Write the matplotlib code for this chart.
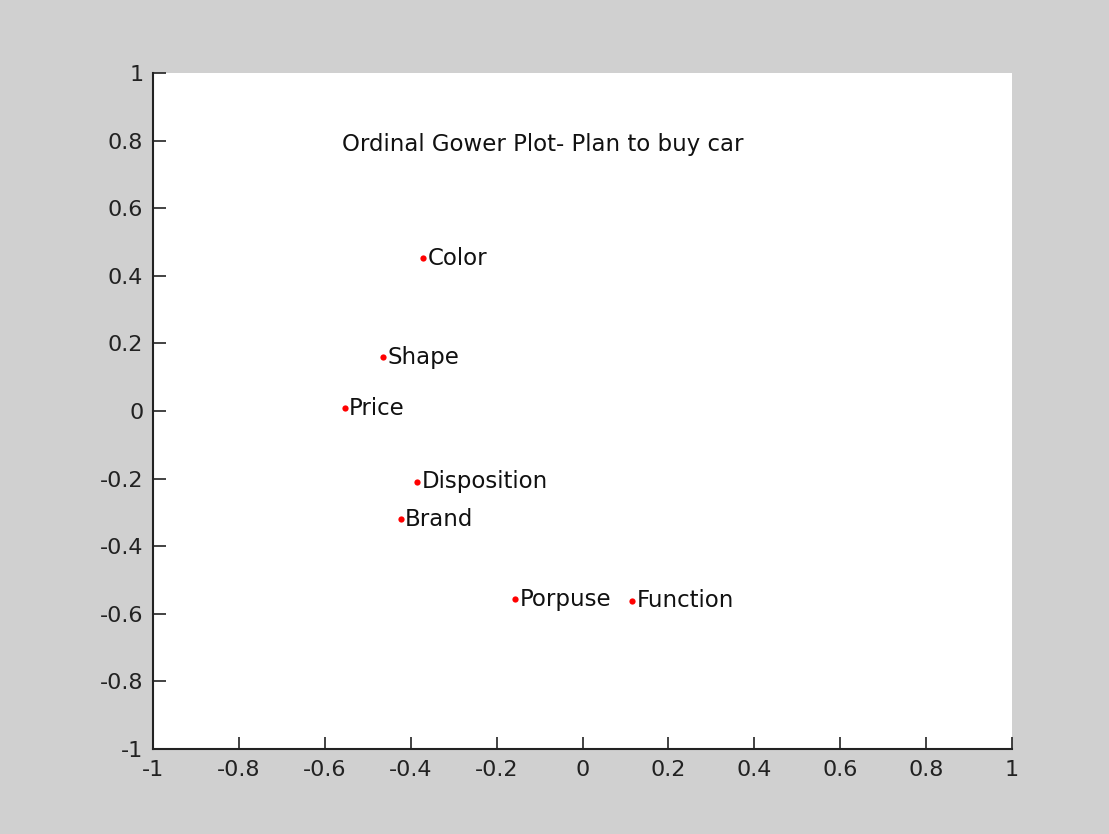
import matplotlib
matplotlib.use("Agg")
import matplotlib.pyplot as plt

# Gower coordinates of the variables
labels = ["Color", "Shape", "Price", "Disposition", "Brand", "Porpuse", "Function"]
xs = [-0.371, -0.464, -0.553, -0.385, -0.423, -0.157, 0.116]
ys = [0.452, 0.159, 0.008, -0.209, -0.320, -0.557, -0.562]
ticks = [-1, -0.8, -0.6, -0.4, -0.2, 0, 0.2, 0.4, 0.6, 0.8, 1]
tick_labels = ["-1", "-0.8", "-0.6", "-0.4", "-0.2", "0", "0.2", "0.4", "0.6", "0.8", "1"]

plt.rcParams["font.family"] = ["DejaVu Sans"]

fig = plt.figure(figsize=(11.09, 8.34), dpi=100, facecolor="#d0d0d0")
ax = fig.add_axes([0.138, 0.1019, 0.7746, 0.8106])
ax.set_facecolor("white")

ax.plot(xs, ys, linestyle="none", marker="o", markersize=4.5,
        color="red", markeredgewidth=0)
for x, y, lab in zip(xs, ys, labels):
    ax.annotate(lab, (x, y), xytext=(3, 0), textcoords="offset points",
                ha="left", va="center", fontsize=16.5, color="#111111")

ax.text(-0.56, 0.787, "Ordinal Gower Plot- Plan to buy car",
        ha="left", va="center", fontsize=16.5, color="#111111")

ax.set_xlim(-1, 1)
ax.set_ylim(-1, 1)
ax.set_xticks(ticks)
ax.set_xticklabels(tick_labels)
ax.set_yticks(ticks)
ax.set_yticklabels(tick_labels)
ax.tick_params(direction="in", length=9, width=1.2, labelsize=16,
               colors="#222222")
ax.tick_params(axis="x", pad=8)
ax.tick_params(axis="y", pad=7)
for side in ("top", "right"):
    ax.spines[side].set_visible(False)
for side in ("left", "bottom"):
    ax.spines[side].set_linewidth(1.5)
    ax.spines[side].set_color("#222222")

fig.savefig("out.png", dpi=100, facecolor=fig.get_facecolor())
